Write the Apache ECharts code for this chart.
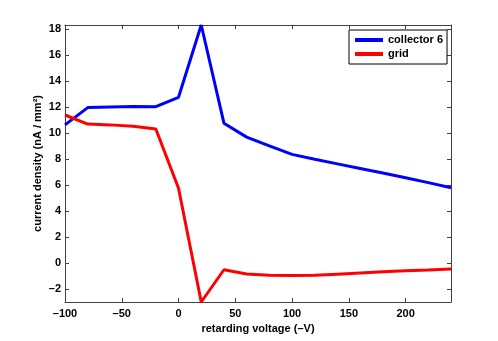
<!DOCTYPE html>
<html>
<head>
<meta charset="utf-8">
<script src="https://cdn.jsdelivr.net/npm/echarts@6/dist/echarts.min.js"></script>
<style>
  html, body { margin: 0; padding: 0; background: #fff; }
  #chart { width: 498px; height: 341px; }
</style>
</head>
<body>
<div id="chart"></div>
<script>
// retarding voltage (V)
const voltage = [-100, -80, -60, -40, -20, 0, 20, 40, 60, 80, 100, 120, 140, 160, 180, 200, 220, 240];
// current density, nA / mm^2
const collector6 = [10.62, 11.95, 12.0, 12.04, 12.02, 12.74, 18.3, 10.75, 9.68, 9.0, 8.35, 7.97, 7.62, 7.27, 6.92, 6.56, 6.18, 5.78];
const grid = [11.38, 10.68, 10.62, 10.52, 10.3, 5.75, -3.0, -0.52, -0.85, -0.95, -0.97, -0.95, -0.86, -0.77, -0.68, -0.6, -0.54, -0.47];
const xTicks = [-100, -50, 0, 50, 100, 150, 200];
const yTicks = [-2, 0, 2, 4, 6, 8, 10, 12, 14, 16, 18];

const axisColor = '#404040';
const font = 'Liberation Sans, Arial, Helvetica, sans-serif';
const fmt = v => String(v).replace('-', '\u2013');

const chart = echarts.init(document.getElementById('chart'));

function xAx(pos, labels) {
    return {
        type: 'value', position: pos, min: -100, max: 240,
        axisLine: { show: true, onZero: false, lineStyle: { color: axisColor, width: 1 } },
        axisTick: { show: true, inside: true, length: 4, customValues: xTicks, lineStyle: { color: axisColor } },
        axisLabel: { show: labels, customValues: xTicks, formatter: fmt, margin: 6,
            color: '#000', fontFamily: font, fontWeight: 'bold', fontSize: 11 },
        splitLine: { show: false },
        name: labels ? 'retarding voltage (\u2013V)' : '', nameLocation: 'middle', nameGap: 19,
        nameTextStyle: { color: '#000', fontFamily: font, fontWeight: 'bold', fontSize: 11 }
    };
}
function yAx(pos, labels) {
    return {
        type: 'value', position: pos, min: -3, max: 18.3,
        axisLine: { show: true, onZero: false, lineStyle: { color: axisColor, width: 1 } },
        axisTick: { show: true, inside: true, length: 4, customValues: yTicks, lineStyle: { color: axisColor } },
        axisLabel: { show: labels, customValues: yTicks, formatter: fmt, margin: 4,
            color: '#000', fontFamily: font, fontWeight: 'bold', fontSize: 11 },
        splitLine: { show: false },
        name: labels ? 'current density (nA / mm\u00b2)' : '', nameLocation: 'middle', nameGap: 22,
        nameMoveOverlap: false,
        nameTextStyle: { color: '#000', fontFamily: font, fontWeight: 'bold', fontSize: 11 }
    };
}

chart.setOption({
    animation: false,
    grid: { left: 65, right: 47, top: 25, bottom: 39 },
    legend: {
        orient: 'vertical', left: 349, top: 30,
        data: ['collector 6', 'grid'],
        icon: 'rect', itemWidth: 28, itemHeight: 4, itemGap: 0,
        padding: [3, 4, 3, 6],
        backgroundColor: '#fff', borderColor: '#000', borderWidth: 1, borderRadius: 0,
        textStyle: { color: '#000', fontFamily: font, fontWeight: 'bold', fontSize: 11, lineHeight: 14 }
    },
    xAxis: [xAx('bottom', true), xAx('top', false)],
    yAxis: [yAx('left', true), yAx('right', false)],
    series: [
        {
            name: 'collector 6', type: 'line', showSymbol: false, symbol: 'none',
            itemStyle: { color: '#0000ff' },
            lineStyle: { color: '#0000ff', width: 3 },
            data: voltage.map((v, i) => [v, collector6[i]])
        },
        {
            name: 'grid', type: 'line', showSymbol: false, symbol: 'none',
            itemStyle: { color: '#ff0000' },
            lineStyle: { color: '#ff0000', width: 3 },
            data: voltage.map((v, i) => [v, grid[i]])
        }
    ]
});
</script>
</body>
</html>
